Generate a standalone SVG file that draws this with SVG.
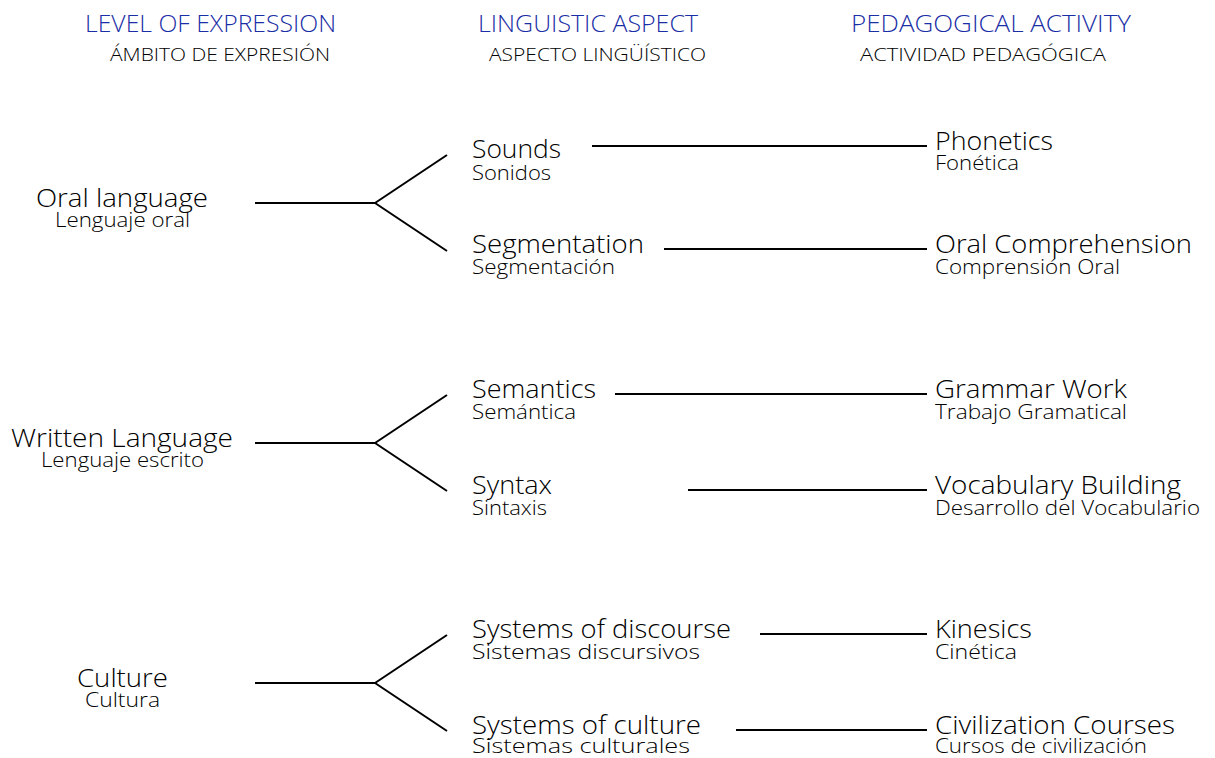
<svg xmlns="http://www.w3.org/2000/svg" width="1215" height="758" viewBox="0 0 1215 758">
<style>
text{font-family:"Open Sans","Noto Sans","Liberation Sans",sans-serif;fill:#000;font-weight:350}
.h{font-size:24px;fill:#1a2ea6}
.hs{font-size:19px}
.m{font-size:25px}
.s{font-size:20.5px}
.c line{stroke:#000;stroke-width:2;fill:none}
</style>
<rect width="1215" height="758" fill="#fff"/>
<g id="headers">
<text class="h" x="85" y="32" textLength="251" lengthAdjust="spacingAndGlyphs">LEVEL OF EXPRESSION</text>
<text class="hs" x="110" y="61" textLength="220" lengthAdjust="spacingAndGlyphs">ÁMBITO DE EXPRESIÓN</text>
<text class="h" x="478" y="32" textLength="220" lengthAdjust="spacingAndGlyphs">LINGUISTIC ASPECT</text>
<text class="hs" x="489" y="61" textLength="217" lengthAdjust="spacingAndGlyphs">ASPECTO LINGÜÍSTICO</text>
<text class="h" x="851" y="32" textLength="280" lengthAdjust="spacingAndGlyphs">PEDAGOGICAL ACTIVITY</text>
<text class="hs" x="860" y="61" textLength="246" lengthAdjust="spacingAndGlyphs">ACTIVIDAD PEDAGÓGICA</text>
</g>
<g class="c" id="connectors">
<line x1="255" y1="203" x2="375" y2="203"/><line x1="375" y1="203" x2="447" y2="155"/><line x1="375" y1="203" x2="447" y2="251"/>
<line x1="592" y1="146" x2="927" y2="146"/><line x1="664" y1="249" x2="927" y2="249"/>
<line x1="255" y1="443" x2="375" y2="443"/><line x1="375" y1="443" x2="447" y2="395"/><line x1="375" y1="443" x2="447" y2="491"/>
<line x1="615" y1="394" x2="927" y2="394"/><line x1="688" y1="490" x2="927" y2="490"/>
<line x1="255" y1="683" x2="375" y2="683"/><line x1="375" y1="683" x2="447" y2="635"/><line x1="375" y1="683" x2="447" y2="731"/>
<line x1="760" y1="634" x2="927" y2="634"/><line x1="736" y1="730" x2="927" y2="730"/>
</g>
<g id="oral"><text class="m" x="36" y="207" textLength="172" lengthAdjust="spacingAndGlyphs">Oral language</text><text class="s" x="55" y="227" textLength="135" lengthAdjust="spacingAndGlyphs">Lenguaje oral</text></g>
<g id="written"><text class="m" x="11" y="447" textLength="222" lengthAdjust="spacingAndGlyphs">Written Language</text><text class="s" x="41" y="467" textLength="163" lengthAdjust="spacingAndGlyphs">Lenguaje escrito</text></g>
<g id="culture"><text class="m" x="77" y="687" textLength="91" lengthAdjust="spacingAndGlyphs">Culture</text><text class="s" x="85" y="707" textLength="75" lengthAdjust="spacingAndGlyphs">Cultura</text></g>
<g id="sounds"><text class="m" x="472" y="158" textLength="89" lengthAdjust="spacingAndGlyphs">Sounds</text><text class="s" x="472" y="180" textLength="79" lengthAdjust="spacingAndGlyphs">Sonidos</text></g>
<g id="segmentation"><text class="m" x="472" y="253" textLength="172" lengthAdjust="spacingAndGlyphs">Segmentation</text><text class="s" x="472" y="274" textLength="143" lengthAdjust="spacingAndGlyphs">Segmentación</text></g>
<g id="semantics"><text class="m" x="472" y="398" textLength="124" lengthAdjust="spacingAndGlyphs">Semantics</text><text class="s" x="472" y="419" textLength="104" lengthAdjust="spacingAndGlyphs">Semántica</text></g>
<g id="syntax"><text class="m" x="472" y="494" textLength="80" lengthAdjust="spacingAndGlyphs">Syntax</text><text class="s" x="472" y="515" textLength="75" lengthAdjust="spacingAndGlyphs">Sintaxis</text></g>
<g id="discourse"><text class="m" x="472" y="638" textLength="259" lengthAdjust="spacingAndGlyphs">Systems of discourse</text><text class="s" x="472" y="659" textLength="228" lengthAdjust="spacingAndGlyphs">Sistemas discursivos</text></g>
<g id="systculture"><text class="m" x="472" y="734" textLength="229" lengthAdjust="spacingAndGlyphs">Systems of culture</text><text class="s" x="472" y="753" textLength="218" lengthAdjust="spacingAndGlyphs">Sistemas culturales</text></g>
<g id="phonetics"><text class="m" x="935" y="150" textLength="118" lengthAdjust="spacingAndGlyphs">Phonetics</text><text class="s" x="935" y="170" textLength="84" lengthAdjust="spacingAndGlyphs">Fonética</text></g>
<g id="oralcomp"><text class="m" x="935" y="253" textLength="257" lengthAdjust="spacingAndGlyphs">Oral Comprehension</text><text class="s" x="935" y="274" textLength="185" lengthAdjust="spacingAndGlyphs">Comprensión Oral</text></g>
<g id="grammar"><text class="m" x="935" y="398" textLength="192" lengthAdjust="spacingAndGlyphs">Grammar Work</text><text class="s" x="935" y="419" textLength="192" lengthAdjust="spacingAndGlyphs">Trabajo Gramatical</text></g>
<g id="vocab"><text class="m" x="935" y="494" textLength="246" lengthAdjust="spacingAndGlyphs">Vocabulary Building</text><text class="s" x="935" y="515" textLength="265" lengthAdjust="spacingAndGlyphs">Desarrollo del Vocabulario</text></g>
<g id="kinesics"><text class="m" x="935" y="638" textLength="97" lengthAdjust="spacingAndGlyphs">Kinesics</text><text class="s" x="935" y="659" textLength="82" lengthAdjust="spacingAndGlyphs">Cinética</text></g>
<g id="civil"><text class="m" x="935" y="734" textLength="240" lengthAdjust="spacingAndGlyphs">Civilization Courses</text><text class="s" x="935" y="753" textLength="212" lengthAdjust="spacingAndGlyphs">Cursos de civilización</text></g>
</svg>
